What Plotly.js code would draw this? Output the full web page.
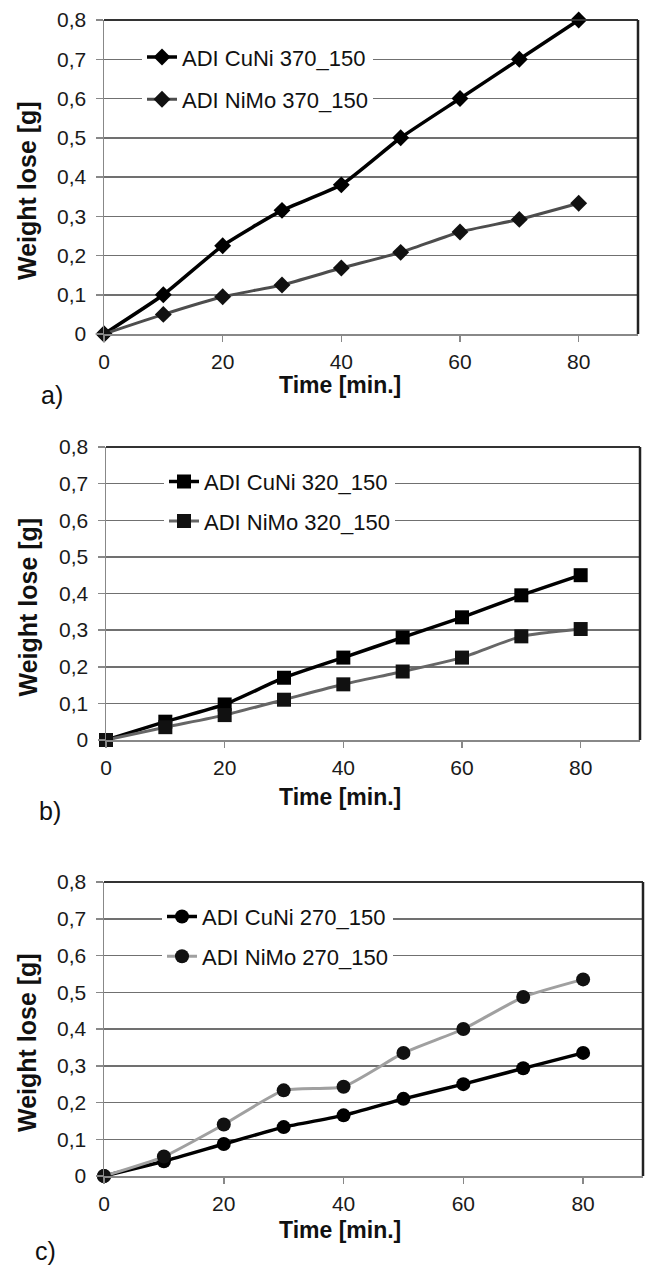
<!DOCTYPE html>
<html>
<head>
<meta charset="utf-8">
<script src="https://cdn.plot.ly/plotly-3.0.1.min.js"></script>
<style>
html,body{margin:0;padding:0;background:#fff;}
#chart{width:645px;height:1268px;}
</style>
</head>
<body>
<div id="chart"></div>
<script>
// ---- data ----
const timeMin = [0, 10, 20, 30, 40, 50, 60, 70, 80];

const cuNi370 = [0, 0.100, 0.225, 0.315, 0.380, 0.500, 0.600, 0.700, 0.800];
const niMo370 = [0, 0.050, 0.095, 0.125, 0.168, 0.208, 0.260, 0.292, 0.333];

const cuNi320 = [0, 0.050, 0.097, 0.170, 0.225, 0.280, 0.335, 0.395, 0.450];
const niMo320 = [0, 0.035, 0.068, 0.110, 0.152, 0.187, 0.225, 0.283, 0.303];

const cuNi270 = [0, 0.040, 0.087, 0.133, 0.165, 0.210, 0.250, 0.293, 0.335];
const niMo270 = [0, 0.053, 0.140, 0.233, 0.243, 0.335, 0.400, 0.487, 0.535];

const seriesNames = [
  ["ADI CuNi 370_150", "ADI NiMo 370_150"],
  ["ADI CuNi 320_150", "ADI NiMo 320_150"],
  ["ADI CuNi 270_150", "ADI NiMo 270_150"]
];
const panelLabels = ["a)", "b)", "c)"];
const yTitle = "Weight lose [g]";
const xTitle = "Time [min.]";

// ---- styling ----
const FONT = "'Liberation Sans', Arial, sans-serif";
const H = 1268, W = 645;
const px2y = p => 1 - p / H;
const px2x = p => p / W;

// plot areas in pixels [left, right(x=90), top(y=0.8), bottom(y=0)]
const boxes = [
  [104, 638, 20, 334],
  [106, 640, 447, 740],
  [104, 643, 882, 1176]
];
const xTitleOffset = [51, 57, 54];
const labelPos = [[52, 395], [50, 811], [45, 1251]];
const symbols = ["diamond", "square", "circle"];
const markerSizes = [13, 14, 14];
const niMoColors = ["#4d4d4d", "#666666", "#a0a0a0"];
const dataSets = [[cuNi370, niMo370], [cuNi320, niMo320], [cuNi270, niMo270]];
const LEG_SIZE = 22;

const traces = [];
const layout = {
  width: W, height: H,
  margin: {l: 0, r: 0, t: 0, b: 0},
  paper_bgcolor: "#fff", plot_bgcolor: "#fff",
  separators: ", ",
  font: {family: FONT, color: "#1a1a1a"},
  showlegend: true,
  annotations: [], shapes: []
};

boxes.forEach((b, i) => {
  const sfx = i === 0 ? "" : String(i + 1);
  const xa = "x" + sfx, ya = "y" + sfx, lg = "legend" + sfx;
  const [cu, ni] = dataSets[i];
  traces.push({
    x: timeMin, y: cu, xaxis: xa, yaxis: ya, legend: lg, legendgroup: "cu" + i,
    name: seriesNames[i][0], type: "scatter", mode: "lines+markers", cliponaxis: false,
    line: {color: "#000", width: 3.5, shape: "spline", smoothing: 0.5},
    marker: {symbol: symbols[i], size: markerSizes[i], color: "#000"}
  });
  traces.push({
    x: timeMin, y: ni, xaxis: xa, yaxis: ya, legend: lg, legendgroup: "ni" + i,
    name: seriesNames[i][1], type: "scatter", mode: "lines+markers", cliponaxis: false,
    line: {color: niMoColors[i], width: 3, shape: "spline", smoothing: 0.5},
    marker: {symbol: symbols[i], size: markerSizes[i], color: "#111"}
  });

  layout["xaxis" + sfx] = {
    domain: [px2x(b[0]), px2x(b[1])], anchor: ya, range: [0, 90],
    dtick: 20, tick0: 0, ticks: "outside", ticklen: 6, tickwidth: 1.5, tickcolor: "#888",
    ticklabelstandoff: 2,
    showline: true, linecolor: "#888", linewidth: 1.5, showgrid: false, zeroline: false,
    tickfont: {family: FONT, size: 21, color: "#1a1a1a"}, fixedrange: true
  };
  layout["yaxis" + sfx] = {
    domain: [px2y(b[3]), px2y(b[2])], anchor: xa, range: [0, 0.8],
    dtick: 0.1, tick0: 0, ticks: "outside", ticklen: 7, tickwidth: 1.5, tickcolor: "#888",
    ticklabelstandoff: 5,
    showline: true, linecolor: "#888", linewidth: 1.5,
    showgrid: true, gridcolor: "#707070", gridwidth: 1.5, zeroline: false,
    tickfont: {family: FONT, size: 21, color: "#1a1a1a"}, fixedrange: true
  };
  // frame top + right
  layout.shapes.push({type: "line", xref: xa + " domain", yref: ya + " domain",
    x0: 0, x1: 1, y0: 1, y1: 1, line: {color: "#333", width: 2}});
  layout.shapes.push({type: "line", xref: xa + " domain", yref: ya + " domain",
    x0: 1, x1: 1, y0: 0, y1: 1, line: {color: "#222", width: 2.5}});

  const rowH = (b[3] - b[2]) / 8;
  layout[lg] = {
    x: px2x(b[0] + (i === 0 ? 38 : 58)), xanchor: "left",
    y: px2y(b[2] + rowH - 23), yanchor: "top",
    bgcolor: "#fff", borderwidth: 0,
    font: {family: FONT, size: LEG_SIZE, color: "#111"},
    traceorder: "grouped", tracegroupgap: rowH - LEG_SIZE * 1.3, itemwidth: 30
  };

  // axis titles
  layout.annotations.push({
    text: "<b>" + yTitle + "</b>", xref: "paper", yref: "paper",
    x: px2x(27), y: px2y((b[2] + b[3]) / 2 + 14), textangle: -90, showarrow: false,
    font: {family: FONT, size: 25, color: "#111"}, xanchor: "center", yanchor: "middle"
  });
  layout.annotations.push({
    text: "<b>" + xTitle + "</b>", xref: "paper", yref: "paper",
    x: px2x(340), y: px2y(b[3] + xTitleOffset[i]), showarrow: false,
    font: {family: FONT, size: 23, color: "#111"}, xanchor: "center", yanchor: "middle"
  });
  layout.annotations.push({
    text: panelLabels[i], xref: "paper", yref: "paper",
    x: px2x(labelPos[i][0]), y: px2y(labelPos[i][1]), showarrow: false,
    font: {family: FONT, size: 25, color: "#111"}, xanchor: "center", yanchor: "middle"
  });
});

Plotly.newPlot("chart", traces, layout, {staticPlot: true, displayModeBar: false});
</script>
</body>
</html>
